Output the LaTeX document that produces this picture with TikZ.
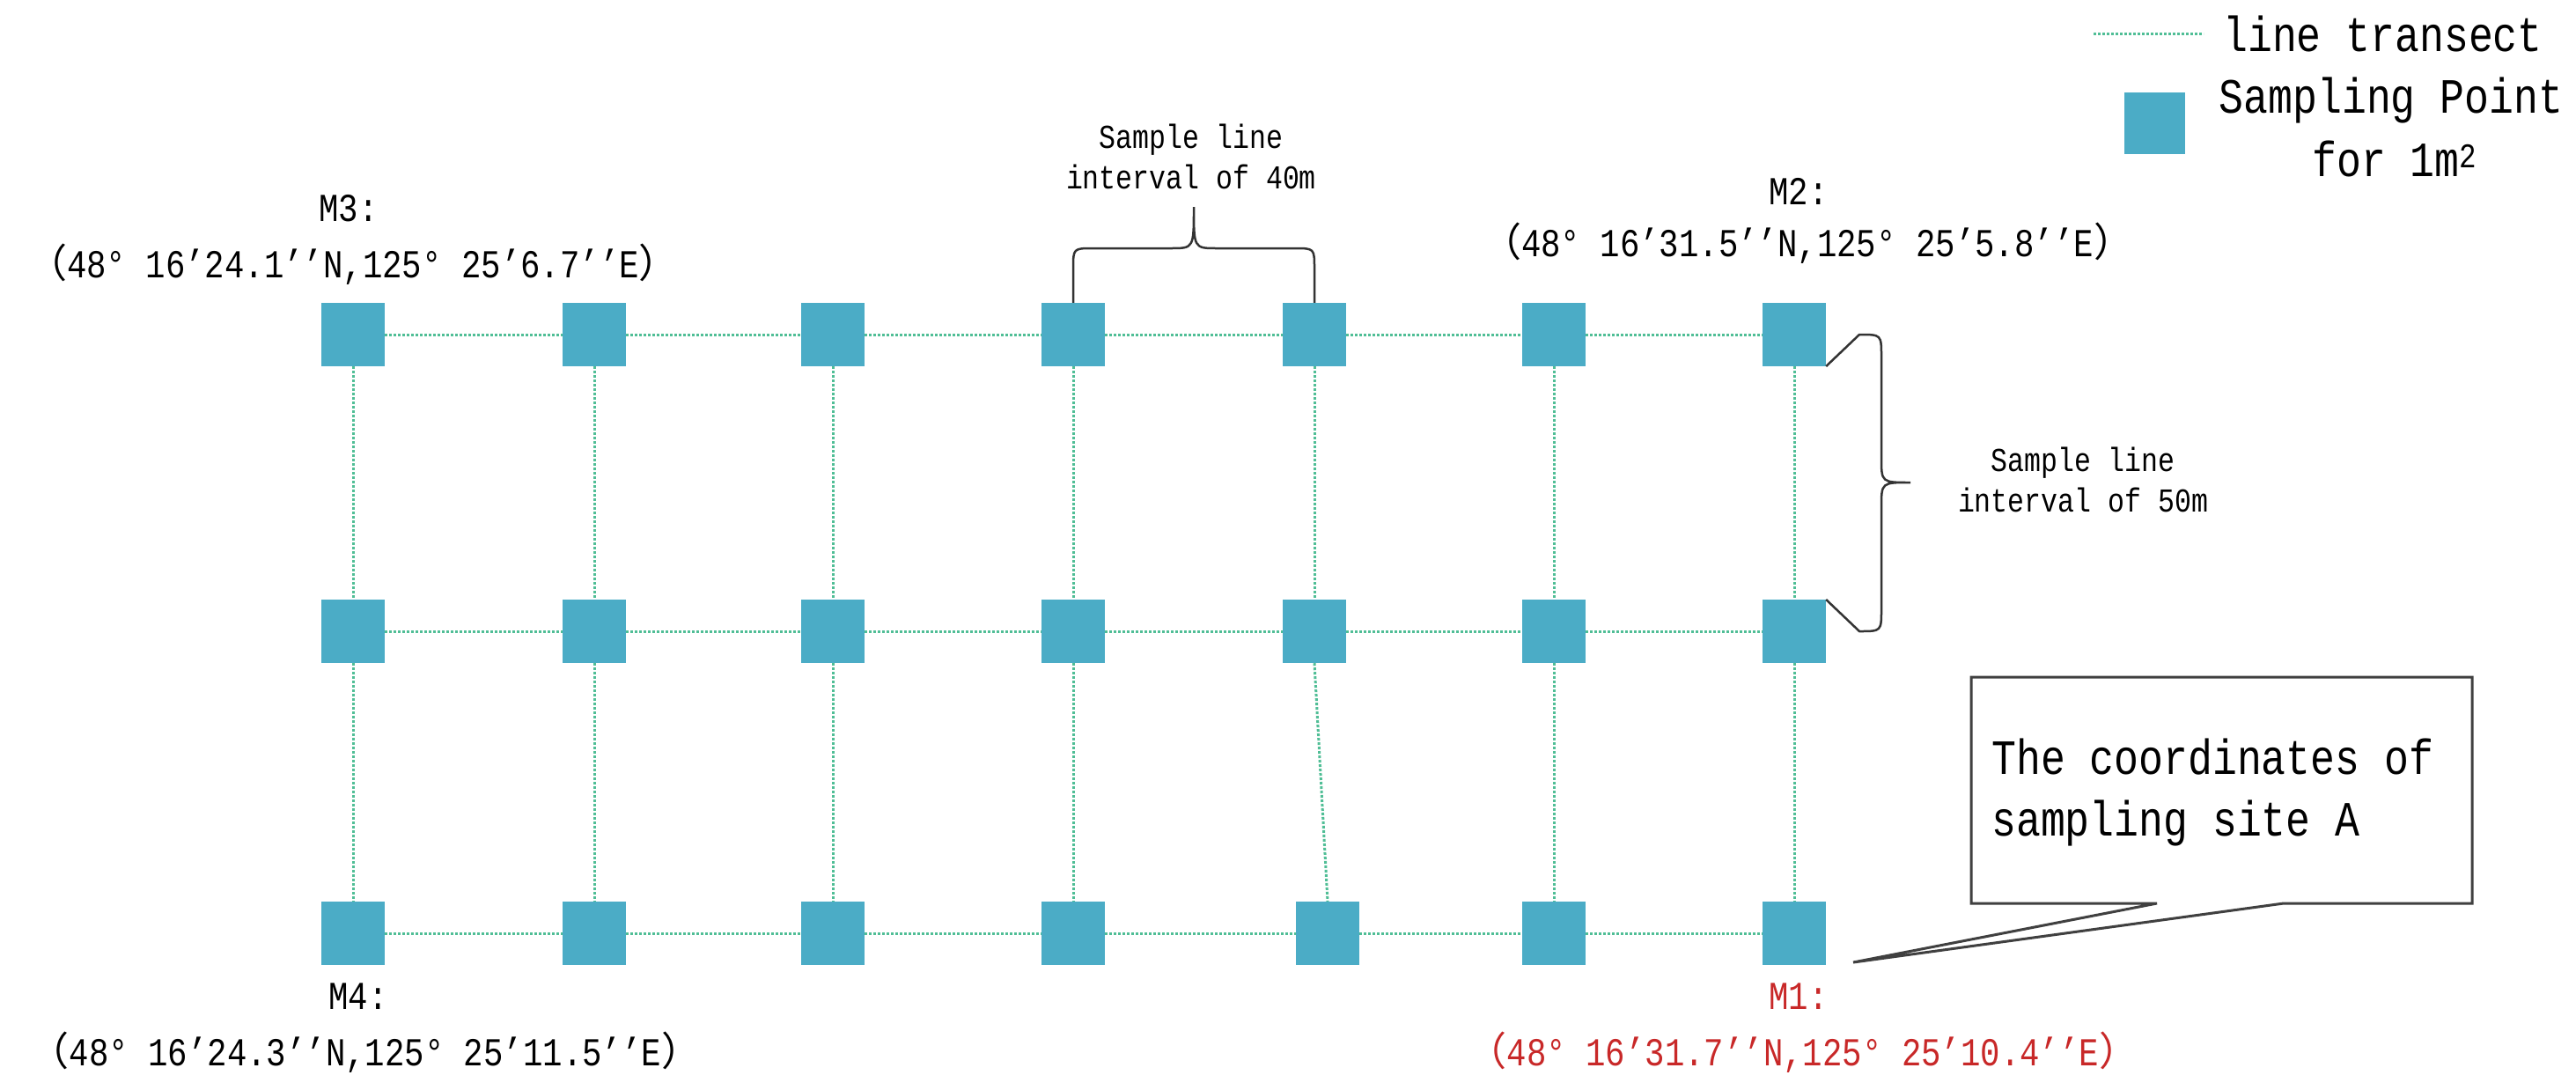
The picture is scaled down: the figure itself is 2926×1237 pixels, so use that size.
\documentclass[tikz,border=0pt]{standalone}
\usepackage{fontspec}
\setmainfont[FakeStretch=0.83]{Liberation Mono}
\newfontfamily\cjk{Noto Sans CJK SC}
\definecolor{sq}{RGB}{75,172,198}
\definecolor{tr}{RGB}{80,190,150}
\definecolor{mred}{RGB}{200,40,40}
\tikzset{
  sqbox/.style={fill=sq,draw=none,minimum width=72pt,minimum height=72pt,inner sep=0},
  trline/.style={draw=tr,line width=3pt,dotted},
  coordtxt/.style={font=\fontsize{45}{50}\selectfont,inner sep=0},
  smalltxt/.style={font=\fontsize{38}{46}\selectfont,inner sep=0,align=center},
  bigtxt/.style={font=\fontsize{56}{70}\selectfont,inner sep=0},
  brc/.style={draw=black!80,line width=2.5pt}
}
\newcommand{\lp}{{\cjk（}}
\newcommand{\rp}{{\cjk）}}
\begin{document}
\begin{tikzpicture}[x=1pt,y=-1pt]
\useasboundingbox[fill=white] (0,0) rectangle (2926,1237);
% squares
\foreach \c/\x in {1/401,2/675,3/946,4/1219,5/1493,6/1765,7/2038}{
  \node[sqbox] (s1\c) at (\x,380) {};
  \node[sqbox] (s2\c) at (\x,717) {};
}
\foreach \c/\x in {1/401,2/675,3/946,4/1219,5/1508,6/1765,7/2038}{
  \node[sqbox] (s3\c) at (\x,1060) {};
}
% transect lines
\begin{scope}[on background layer/.style={}]
\foreach \r in {1,2,3}{
  \foreach \a/\b in {1/2,2/3,3/4,4/5,5/6,6/7}{
    \draw[trline] (s\r\a.east) -- (s\r\b.west);
  }
}
\foreach \c in {1,...,7}{
  \draw[trline] (s1\c.south) -- (s2\c.north);
  \draw[trline] (s2\c.south) -- (s3\c.north);
}
\end{scope}
% labels
\node[coordtxt] (m3) at (396,237) {M3:};
\node[coordtxt] (c3) at (401,300) {\lp48° 16'24.1'{}'N,125° 25'6.7'{}'E\rp};
\node[coordtxt] (m2) at (2043,217) {M2:};
\node[coordtxt] (c2) at (2053,276) {\lp48° 16'31.5'{}'N,125° 25'5.8'{}'E\rp};
\node[coordtxt] (m4) at (407,1132) {M4:};
\node[coordtxt] (c4) at (415,1195) {\lp48° 16'24.3'{}'N,125° 25'11.5'{}'E\rp};
\node[coordtxt,text=mred] (m1) at (2043,1132) {M1:};
\node[coordtxt,text=mred] (c1) at (2048,1195) {\lp48° 16'31.7'{}'N,125° 25'10.4'{}'E\rp};
% top brace
\coordinate (tb) at (1356,235);
\draw[brc] (s14.north) -- (1219,305) .. controls (1219,282) .. (1242,282) -- (1330,282)
  .. controls (1356,282) .. (tb) .. controls (1356,282) .. (1382,282) -- (1470,282)
  .. controls (1493,282) .. (1493,305) -- (s15.north);
\node[smalltxt] (tbt) at (1353,178) {Sample line\\interval of 40m};
% right brace
\coordinate (rb) at (2170,548);
\draw[brc] ([yshift=-36pt]s17.east) -- (2112,380) .. controls (2137,380) .. (2137,405) -- (2137,520)
  .. controls (2137,548) .. (rb) .. controls (2137,548) .. (2137,576) -- (2137,692)
  .. controls (2137,717) .. (2112,717) -- ([yshift=36pt]s27.east);
\node[smalltxt] (rbt) at (2366,545) {Sample line\\interval of 50m};
% callout
\coordinate (tip) at (2105,1093);
\draw[line width=3pt,draw=black!75,fill=white] (2239,769) -- (2808,769) -- (2808,1026) -- (2594,1026) -- (tip) -- (2450,1026) -- (2239,1026) -- cycle;
\node[bigtxt,anchor=west,align=left,font=\fontsize{56}{70}\selectfont] (call) at (2262,900) {The coordinates of\\sampling site A};
% legend
\coordinate (la) at (2378,38);
\coordinate (lb) at (2503,38);
\draw[trline] (la) -- (lb);
\node[bigtxt,anchor=west] (lt) at (2525,38) {line transect};
\node[sqbox,minimum width=69pt,minimum height=70pt] (ls) at (2447,140) {};
\node[bigtxt] (lst) at (2716,114) {Sampling Point};
\node[bigtxt] (lst2) at (2720,180) {for 1m\textsuperscript{2}};
\end{tikzpicture}
\end{document}
